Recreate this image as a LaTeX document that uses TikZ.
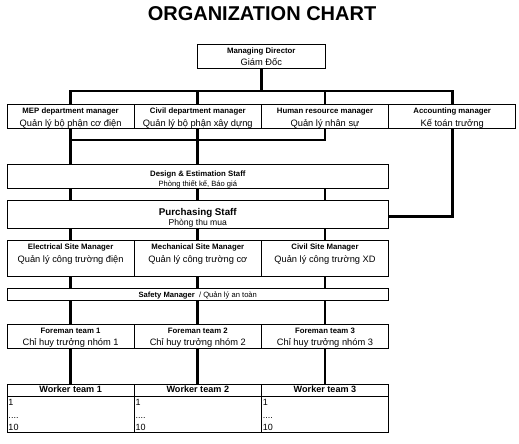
\documentclass[tikz,border=0pt]{standalone}
\usepackage{fontspec}
\setmainfont{Liberation Sans}
\begin{document}
\begin{tikzpicture}[x=1pt,y=-1pt,
  box/.style={draw=black, line width=0.9pt, rectangle, inner sep=0pt, outer sep=0pt},
  conn/.style={draw=black, line width=2.8pt},
  bt/.style={font=\fontsize{7.8}{9}\selectfont\bfseries, inner sep=0pt, anchor=base},
  rt/.style={font=\fontsize{9.3}{11}\selectfont, inner sep=0pt, anchor=base},
  st/.style={font=\fontsize{7.6}{9}\selectfont, inner sep=0pt, anchor=base},
  wt/.style={font=\fontsize{9}{11}\selectfont, inner sep=0pt, anchor=base west}]
\useasboundingbox (0,0) rectangle (519,444);

% title
\node[font=\fontsize{20}{24}\selectfont\bfseries, inner sep=0pt] (title) at (262,14) {ORGANIZATION CHART};

% boxes
\node[box, minimum width=127.5pt, minimum height=24.5pt] (md) at (261.25,56.25) {};
\node[box, minimum width=127.2pt, minimum height=24pt] (mep) at (70.6,116.3) {};
\node[box, minimum width=127.2pt, minimum height=24pt] (civ) at (197.8,116.3) {};
\node[box, minimum width=127.2pt, minimum height=24pt] (hr)  at (325.0,116.3) {};
\node[box, minimum width=127.2pt, minimum height=24pt] (acc) at (452.2,116.3) {};
\node[box, minimum width=381.6pt, minimum height=24.2pt] (des) at (197.8,176.4) {};
\node[box, minimum width=381.6pt, minimum height=27.6pt] (pur) at (197.8,214.5) {};
\node[box, minimum width=127.2pt, minimum height=36pt] (esm) at (70.6,258) {};
\node[box, minimum width=127.2pt, minimum height=36pt] (msm) at (197.8,258) {};
\node[box, minimum width=127.2pt, minimum height=36pt] (csm) at (325.0,258) {};
\node[box, minimum width=381.6pt, minimum height=11.6pt] (saf) at (197.8,294.5) {};
\node[box, minimum width=127.2pt, minimum height=23.6pt] (fm1) at (70.6,336.5) {};
\node[box, minimum width=127.2pt, minimum height=23.6pt] (fm2) at (197.8,336.5) {};
\node[box, minimum width=127.2pt, minimum height=23.6pt] (fm3) at (325.0,336.5) {};
\node[box, minimum width=127.2pt, minimum height=12.7pt] (wh1) at (70.6,390.35) {};
\node[box, minimum width=127.2pt, minimum height=12.7pt] (wh2) at (197.8,390.35) {};
\node[box, minimum width=127.2pt, minimum height=12.7pt] (wh3) at (325.0,390.35) {};
\node[box, minimum width=127.2pt, minimum height=35.6pt] (wb1) at (70.6,414.5) {};
\node[box, minimum width=127.2pt, minimum height=35.6pt] (wb2) at (197.8,414.5) {};
\node[box, minimum width=127.2pt, minimum height=35.6pt] (wb3) at (325.0,414.5) {};

% texts
\node[bt] (mdA) at (261.25,54) {Managing Director};
\node[rt] (mdB) at (261.25,66) {Giám Đốc};
\node[bt] (mepA) at (70.6,113.7) {MEP department manager};
\node[rt] (mepB) at (70.6,126) {Quản lý bộ phận cơ điện};
\node[bt] (civA) at (197.8,113.7) {Civil department manager};
\node[rt] (civB) at (197.8,126) {Quản lý bộ phận xây dựng};
\node[bt] (hrA) at (325.0,113.7) {Human resource manager};
\node[rt] (hrB) at (325.0,126) {Quản lý nhân sự};
\node[bt] (accA) at (452.2,113.7) {Accounting manager};
\node[rt] (accB) at (452.2,126) {Kế toán trưởng};
\node[bt] (desA) at (197.8,176.3) {Design \& Estimation Staff};
\node[st] (desB) at (197.8,186.3) {Phòng thiết kế, Báo giá};
\node[bt, font=\fontsize{9.8}{11}\selectfont\bfseries] (purA) at (197.8,215) {Purchasing Staff};
\node[st, font=\fontsize{8.6}{10}\selectfont] (purB) at (197.8,225) {Phòng thu mua};
\node[bt] (esmA) at (70.6,249) {Electrical Site Manager};
\node[rt] (esmB) at (70.6,262) {Quản lý công trường điện};
\node[bt] (msmA) at (197.8,249) {Mechanical Site Manager};
\node[rt] (msmB) at (197.8,262) {Quản lý công trường cơ};
\node[bt] (csmA) at (325.0,249) {Civil Site Manager};
\node[rt] (csmB) at (325.0,262) {Quản lý công trường XD};
\node[st] (safA) at (197.8,297.3) {\textbf{Safety Manager}\ \ / Quản lý an toàn};
\node[bt] (fm1A) at (70.6,333) {Foreman team 1};
\node[rt] (fm1B) at (70.6,345.3) {Chỉ huy trưởng nhóm 1};
\node[bt] (fm2A) at (197.8,333) {Foreman team 2};
\node[rt] (fm2B) at (197.8,345.3) {Chỉ huy trưởng nhóm 2};
\node[bt] (fm3A) at (325.0,333) {Foreman team 3};
\node[rt] (fm3B) at (325.0,345.3) {Chỉ huy trưởng nhóm 3};
\node[bt, font=\fontsize{9.1}{11}\selectfont\bfseries] (wh1A) at (70.6,392.9) {Worker team 1};
\node[bt, font=\fontsize{9.1}{11}\selectfont\bfseries] (wh2A) at (197.8,392.9) {Worker team 2};
\node[bt, font=\fontsize{9.1}{11}\selectfont\bfseries] (wh3A) at (325.0,392.9) {Worker team 3};
\foreach \c/\x in {1/8.3,2/135.5,3/262.7}{
  \node[wt] (w\c a) at (\x,405) {1};
  \node[wt] (w\c b) at (\x,418.7) {....};
  \node[wt] (w\c c) at (\x,430) {10};
}

% connectors
\coordinate (j1) at (261.25,91);
\coordinate (j2) at (0,140);
\draw[conn] (md.south) -- (j1);
\draw[conn] (mep.north) -- (mep.north |- j1) -- (acc.north |- j1) -- (acc.north);
\draw[conn] (civ.north) -- (civ.north |- j1);
\draw[conn] (hr.north) -- (hr.north |- j1);
\draw[conn] (hr.south) -- (hr.south |- j2) -- (mep.south |- j2);
\draw[conn] (mep.south) -- (mep.south |- des.north);
\draw[conn] (civ.south) -- (civ.south |- des.north);
\draw[conn] (acc.south) |- ([yshift=-2pt]pur.east);
\foreach \n in {esm,msm,csm}{
  \draw[conn] (\n.north |- des.south) -- (\n.north |- pur.north);
  \draw[conn] (\n.north |- pur.south) -- (\n.north);
  \draw[conn] (\n.south) -- (\n.south |- saf.north);
}
\draw[conn] (fm1.north |- saf.south) -- (fm1.north);
\draw[conn] (fm2.north |- saf.south) -- (fm2.north);
\draw[conn] (fm3.north |- saf.south) -- (fm3.north);
\draw[conn] (fm1.south) -- (wh1.north);
\draw[conn] (fm2.south) -- (wh2.north);
\draw[conn] (fm3.south) -- (wh3.north);
\end{tikzpicture}
\end{document}
